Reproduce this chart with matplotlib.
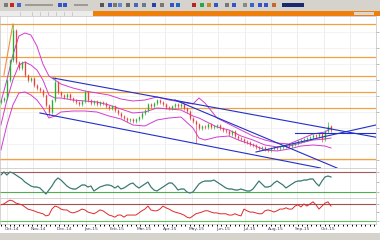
import matplotlib
matplotlib.use("Agg")
import matplotlib.pyplot as plt
from matplotlib.patches import Rectangle
import numpy as np

# ---------------- data ----------------
first_open = 98
closes = [100, 102, 120, 140, 170, 138, 132, 138, 125, 120, 122, 115, 112, 110, 105, 95, 88, 100, 118, 108,
          105, 103, 106, 102, 100, 98, 96, 99, 108, 100, 97, 99, 96, 98, 97, 94, 92, 94, 90, 87,
          84, 82, 80, 81, 79, 81, 83, 87, 90, 96, 94, 97, 100, 98, 96, 93, 92, 94, 96, 94,
          96, 92, 89, 82, 79, 76, 72, 74, 73, 76, 73, 74, 75, 72, 70, 69, 66, 69, 64, 62,
          61, 59, 58, 56, 55, 53, 52, 53, 51, 50, 52, 53, 52, 53, 54, 55, 54, 56, 57, 59,
          60, 61, 62, 63, 65, 64, 66, 61, 69, 74, 70]
spike_highs = {4: 176, 18: 123, 28: 110, 109: 78}
spike_lows = {16: 84, 65: 57, 107: 58}

band_x = [0, 2, 4, 6, 8, 10, 12, 14, 16, 18, 20, 24, 28, 32, 36, 40, 44, 48, 52, 56,
          60, 64, 66, 68, 72, 76, 80, 84, 88, 92, 96, 100, 104, 108, 110]
band_upper = [98, 120, 145, 164, 167, 165, 154, 136, 124, 120, 116, 112, 109, 107, 105, 101, 99, 100, 103, 100,
              98, 96, 102, 97, 82, 76, 70, 64, 60, 57, 56, 61, 66, 68, 72]
band_middle = [75, 100, 120, 135, 138, 135, 130, 120, 105, 102, 102, 100, 99, 98, 95, 91, 87, 88, 92, 91,
               90, 84, 82, 79, 73, 70, 64, 60, 55, 53, 54, 57, 60, 61, 62]
band_lower = [50, 75, 95, 107, 108, 105, 100, 92, 82, 84, 88, 89, 89, 88, 84, 81, 75, 74, 80, 82,
              83, 72, 62, 60, 63, 64, 59, 55, 50, 49, 51, 54, 55, 54, 52]

stoch = [71, 80, 71, 80, 77, 71, 65, 59, 50, 44, 38, 35, 35, 32, 23, 14, 26, 38, 53, 62,
         56, 47, 38, 32, 29, 29, 35, 41, 41, 35, 38, 23, 29, 35, 38, 41, 41, 38, 32, 38,
         29, 32, 38, 44, 47, 38, 32, 38, 44, 50, 35, 26, 23, 29, 35, 41, 47, 47, 38, 26,
         29, 29, 20, 17, 20, 32, 44, 50, 53, 53, 53, 56, 50, 44, 38, 32, 29, 29, 26, 26,
         29, 26, 23, 23, 29, 41, 53, 44, 35, 35, 38, 47, 53, 47, 41, 32, 38, 44, 50, 53,
         53, 56, 56, 59, 59, 47, 38, 53, 65, 68, 65]

rsi = [68, 70, 75, 79, 77, 72, 70, 68, 63, 58, 56, 54, 51, 49, 47, 42, 44, 58, 65, 63,
       58, 56, 56, 51, 49, 51, 54, 58, 56, 51, 49, 47, 51, 56, 54, 49, 44, 42, 39, 44,
       44, 39, 44, 44, 44, 44, 49, 54, 58, 65, 56, 54, 54, 58, 65, 61, 58, 54, 51, 49,
       47, 44, 39, 37, 42, 47, 49, 51, 54, 54, 51, 49, 49, 47, 47, 47, 44, 44, 47, 44,
       42, 58, 54, 51, 51, 49, 47, 47, 54, 56, 54, 51, 54, 58, 58, 61, 58, 58, 65, 68,
       63, 70, 65, 70, 75, 68, 58, 65, 72, 75, 65]

price_levels = [176, 143, 124, 108, 92, 41]
trendlines = [(17.4, 122, 126.4, 62), (13, 87, 106.5, 32), (58, 100, 112, 32),
              (85, 48, 126.4, 76), (98, 67, 126.4, 67)]
orange_trend = (1, 125, 4, 176)
date_labels = ["Oct-14", "Nov-14", "Dec-14", "Jan-15", "Feb-15", "Mar-15", "Apr-15",
               "May-15", "Jun-15", "Jul-15", "Aug-15", "Sep-15", "Oct-15"]

# ---------------- figure ----------------
W, H = 380, 240
fig = plt.figure(figsize=(3.8, 2.4), dpi=100)
fig.patch.set_facecolor("white")

deco = fig.add_axes([0, 0, 1, 1])
deco.set_xlim(0, W)
deco.set_ylim(H, 0)
deco.axis("off")
deco.add_patch(Rectangle((0, 0), W, 11, color="#d6d3cc", lw=0))
deco.add_patch(Rectangle((0, 11), 93, 5, color="#ececec", lw=0))
deco.add_patch(Rectangle((93, 11), W - 93, 5, color="#f07e0a", lw=0))
deco.add_patch(Rectangle((354, 11.8), 20, 3.4, color="#d8d8d8", lw=0))
deco.add_patch(Rectangle((282, 3), 22, 4, color="#1a2a70", lw=0))
deco.add_patch(Rectangle((0, 233), W, 7, color="#d6d3cc", lw=0))
icons = [(4, "#7a7a7a"), (10, "#cc2222"), (17, "#4466cc"), (58, "#3355cc"), (63, "#3355cc"),
         (100, "#555555"), (108, "#3355cc"), (113, "#777777"), (118, "#6688cc"), (126, "#666666"),
         (134, "#4466bb"), (142, "#667799"), (152, "#2244aa"), (160, "#777777"), (170, "#3355cc"),
         (176, "#2266cc"), (192, "#bb2222"), (200, "#22aa44"), (207, "#cc8822"), (214, "#3355cc"),
         (225, "#777777"), (232, "#3355cc"), (243, "#888888"), (250, "#3366cc"), (258, "#3355cc"),
         (264, "#3355cc"), (272, "#cc6622")]
for ix, col in icons:
    deco.add_patch(Rectangle((ix, 3), 4, 4, color=col, lw=0))
deco.add_patch(Rectangle((25, 4), 28, 2, color="#9a9a9a", lw=0))
deco.add_patch(Rectangle((74, 4), 14, 2, color="#9a9a9a", lw=0))
for tx in [20, 32, 40, 48, 56, 64, 72]:
    deco.plot([tx, tx], [11.5, 15.5], color="#b0b0b0", lw=0.4)

xmin, xmax = -0.3, 125.0
grid_x = 2.0 + 8.8 * np.arange(14)


def panel(y0, y1):
    ax = fig.add_axes([0, 1 - y1 / H, 376 / W, (y1 - y0) / H])
    ax.set_facecolor("white")
    ax.set_xlim(xmin, xmax)
    for s in ax.spines.values():
        s.set_color("#c8c0c0")
        s.set_linewidth(0.5)
    for gx in grid_x:
        ax.axvline(gx, color="#e6e6e6", lw=0.5, zorder=0)
    ax.yaxis.tick_right()
    ax.tick_params(axis="y", length=2, width=0.4, color="#888888", labelright=False, pad=0)
    ax.tick_params(axis="x", length=0, labelbottom=False)
    return ax


# main price panel
ax = panel(16, 168)
ax.set_ylim(32, 184)
ax.set_yticks(np.arange(40, 184, 16))
for yv in np.arange(40, 184, 16):
    ax.axhline(yv, color="#eeeeee", lw=0.5, zorder=0)
for lv in price_levels:
    ax.axhline(lv, color="#f0a040", lw=0.9, zorder=1)

n = len(closes)
idx = np.arange(n)
opens = [first_open] + closes[:-1]
for i in range(n):
    o, c = opens[i], closes[i]
    hi = spike_highs.get(i, max(o, c) + 1.5)
    lo = spike_lows.get(i, min(o, c) - 1.5)
    col = "#22b030" if c >= o else "#e84040"
    ax.vlines(i, lo, hi, color=col, lw=0.45, zorder=3)
    ax.vlines(i, min(o, c), max(o, c) + 0.4, color=col, lw=0.95, zorder=3)

for band in (band_upper, band_middle, band_lower):
    ax.plot(band_x, band, color="#d23cd2", lw=0.7, zorder=2)

for x0, y0, x1, y1 in trendlines:
    ax.plot([x0, x1], [y0, y1], color="#2030c8", lw=0.8, zorder=4)
ax.plot([orange_trend[0], orange_trend[2]], [orange_trend[1], orange_trend[3]],
        color="#f09040", lw=0.8, zorder=4)

# stochastic panel
ax2 = panel(168, 198)
ax2.set_ylim(2, 92)
ax2.set_yticks([20, 50, 80])
ax2.axhline(80, color="#a05a5a", lw=0.8)
ax2.axhline(20, color="#50b050", lw=0.8)
ax2.plot(idx, stoch, color="#40b0a0", lw=0.9)
ax2.plot(idx, stoch, color="#5a5a5a", lw=0.45)

# rsi panel
ax3 = panel(198, 224)
ax3.set_ylim(23, 84)
ax3.set_yticks([30, 50, 70])
ax3.axhline(70, color="#a05050", lw=0.8)
ax3.axhline(30, color="#60c060", lw=0.8)
ax3.plot(idx, rsi, color="#e02828", lw=0.7)
ax3.set_xticks(grid_x[:len(date_labels)] + 1.6)
ax3.set_xticklabels(date_labels, fontsize=3.2, color="#404060")
ax3.tick_params(axis="x", labelbottom=True, length=0, pad=2.5)
ax3.set_xticks(np.arange(0, 125, 1.5), minor=True)
ax3.tick_params(axis="x", which="minor", length=1.6, width=0.7, color="black")

fig.savefig("out.png", dpi=100, facecolor="white")
